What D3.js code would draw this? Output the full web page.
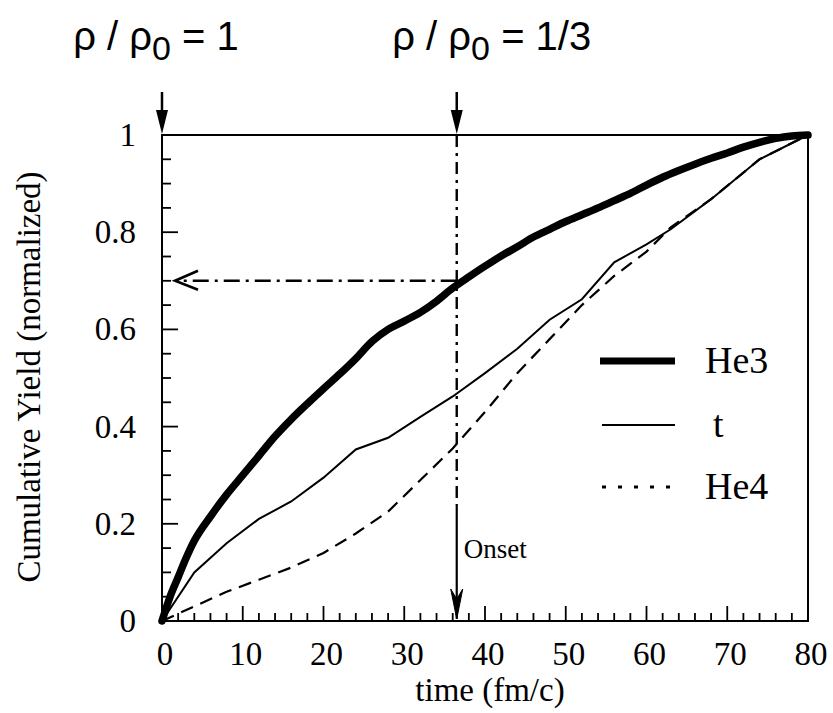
<!DOCTYPE html>
<html>
<head>
<meta charset="utf-8">
<script src="https://cdn.jsdelivr.net/npm/d3@7"></script>
<style>
  html, body { margin: 0; padding: 0; background: #fff; }
  svg { display: block; }
</style>
</head>
<body>
<svg id="chart" width="833" height="713"></svg>
<script>
// ---- data ----
const he3Time  = [0, 1, 2, 3, 4, 6, 8, 10, 12, 14, 16, 18, 20, 22, 24, 26, 28, 30, 32, 34, 36, 38, 40, 42, 44, 46, 48, 50, 52, 54, 56, 58, 60, 62, 64, 66, 68, 70, 72, 74, 76, 78, 80];
const he3Yield = [0, 0.05, 0.09, 0.13, 0.165, 0.215, 0.26, 0.3, 0.34, 0.38, 0.415, 0.447, 0.478, 0.508, 0.54, 0.575, 0.6, 0.617, 0.635, 0.658, 0.685, 0.708, 0.73, 0.751, 0.77, 0.79, 0.806, 0.822, 0.836, 0.85, 0.865, 0.88, 0.897, 0.913, 0.927, 0.94, 0.952, 0.963, 0.975, 0.985, 0.993, 0.998, 1.0];

const tTime  = [0, 4, 8, 12, 16, 20, 24, 28, 32, 36, 40, 44, 48, 52, 56, 60, 63, 68, 74, 80];
const tYield = [0, 0.10, 0.16, 0.21, 0.246, 0.295, 0.353, 0.377, 0.42, 0.462, 0.51, 0.56, 0.62, 0.662, 0.738, 0.775, 0.806, 0.868, 0.95, 1.0];

const he4Time  = [0, 4, 8, 12, 16, 20, 24, 28, 32, 36, 40, 44, 48, 52, 56, 60, 63, 68, 74, 80];
const he4Yield = [0, 0.03, 0.06, 0.085, 0.11, 0.14, 0.18, 0.225, 0.29, 0.355, 0.43, 0.51, 0.58, 0.65, 0.71, 0.76, 0.81, 0.868, 0.95, 1.0];

const xTickLabels = [0, 10, 20, 30, 40, 50, 60, 70, 80];
const yTickLabels = [0, 0.2, 0.4, 0.6, 0.8, 1];
const seriesNames = ["He3", "t", "He4"];
const onsetTime = 36.5;
const onsetYield = 0.70;
const xTitle = "time (fm/c)";
const yTitle = "Cumulative Yield (normalized)";

// ---- layout ----
const svg = d3.select("#chart");
const x = d3.scaleLinear().domain([0, 80]).range([162, 808]);
const y = d3.scaleLinear().domain([0, 1]).range([621, 135]);
const serif = "'Liberation Serif', 'Times New Roman', serif";
const narrow = "'Liberation Sans Narrow', 'Arial Narrow', 'Liberation Sans', sans-serif";

const pts = (ts, vs) => ts.map((t, i) => [t, vs[i]]);

// frame
const g = svg.append("g");
g.append("rect")
  .attr("x", x(0)).attr("y", y(1))
  .attr("width", x(80) - x(0)).attr("height", y(0) - y(1))
  .attr("fill", "none").attr("stroke", "#000").attr("stroke-width", 2);

// x ticks (inward)
const xMinor = d3.range(0, 81, 2);
g.selectAll(".xt").data(xMinor).enter().append("line")
  .attr("x1", d => x(d)).attr("x2", d => x(d))
  .attr("y1", y(0)).attr("y2", d => y(0) - (d % 10 === 0 ? 15 : 8))
  .attr("stroke", "#000").attr("stroke-width", 1.8);

// y ticks (inward)
const yMinor = d3.range(0, 21).map(i => i * 0.05);
g.selectAll(".yt").data(yMinor).enter().append("line")
  .attr("x1", x(0)).attr("x2", (d, i) => x(0) + (i % 4 === 0 ? 16 : 9))
  .attr("y1", d => y(d)).attr("y2", d => y(d))
  .attr("stroke", "#000").attr("stroke-width", 1.8);

// tick labels
g.selectAll(".xl").data(xTickLabels).enter().append("text")
  .attr("x", d => x(d) + 3).attr("y", 665)
  .attr("text-anchor", "middle")
  .attr("font-family", serif).attr("font-size", 33)
  .text(d => d);
g.selectAll(".yl").data(yTickLabels).enter().append("text")
  .attr("x", 136).attr("y", d => y(d) + 11)
  .attr("text-anchor", "end")
  .attr("font-family", serif).attr("font-size", 33)
  .text(d => d);

// axis titles
g.append("text").attr("x", 490).attr("y", 701)
  .attr("text-anchor", "middle").attr("font-family", serif).attr("font-size", 33)
  .text(xTitle);
g.append("text")
  .attr("transform", "translate(40,377) rotate(-90)")
  .attr("text-anchor", "middle").attr("font-family", serif).attr("font-size", 33)
  .text(yTitle);

// curves
const line = d3.line().x(d => x(d[0])).y(d => y(d[1]));
g.append("path").datum(pts(he4Time, he4Yield))
  .attr("d", line.curve(d3.curveLinear))
  .attr("fill", "none").attr("stroke", "#000").attr("stroke-width", 2.2)
  .attr("stroke-dasharray", "13,8");
g.append("path").datum(pts(tTime, tYield))
  .attr("d", line.curve(d3.curveLinear))
  .attr("fill", "none").attr("stroke", "#000").attr("stroke-width", 2);
g.append("path").datum(pts(he3Time, he3Yield))
  .attr("d", line.curve(d3.curveMonotoneX))
  .attr("fill", "none").attr("stroke", "#000").attr("stroke-width", 7.5)
  .attr("stroke-linejoin", "round").attr("stroke-linecap", "round");

// onset vertical dash-dot line
const ox = x(onsetTime);
const dashEnd = 505;
g.append("line").attr("x1", ox).attr("x2", ox).attr("y1", y(1)).attr("y2", dashEnd)
  .attr("stroke", "#000").attr("stroke-width", 2.4).attr("stroke-dasharray", "12,6,3,6");
g.append("line").attr("x1", ox).attr("x2", ox).attr("y1", dashEnd).attr("y2", y(0) - 2)
  .attr("stroke", "#000").attr("stroke-width", 2.2);
// bottom arrowhead
g.append("path")
  .attr("d", `M${ox - 6},${y(0) - 32} L${ox},${y(0) - 2} L${ox + 6},${y(0) - 32} L${ox},${y(0) - 22} Z`)
  .attr("fill", "#000").attr("stroke", "#000").attr("stroke-width", 1);

// horizontal dash-dot arrow to the y axis
const hy = y(onsetYield);
g.append("line").attr("x1", ox).attr("x2", x(0) + 14).attr("y1", hy).attr("y2", hy)
  .attr("stroke", "#000").attr("stroke-width", 2.4).attr("stroke-dasharray", "16,6,3,6");
g.append("path")
  .attr("d", `M${x(0) + 36},${hy - 10} L${x(0) + 13},${hy} L${x(0) + 36},${hy + 9}`)
  .attr("fill", "none").attr("stroke", "#000").attr("stroke-width", 2.6);

// "Onset" label
g.append("text").attr("x", ox + 7).attr("y", 558)
  .attr("font-family", serif).attr("font-size", 27).text("Onset");

// top annotations with arrows
const topMarks = [
  { t: 0, label: "1", dx: -6 },
  { t: onsetTime, label: "1/3", dx: 35 }
];
topMarks.forEach(m => {
  const ax = x(m.t);
  g.append("line").attr("x1", ax).attr("x2", ax).attr("y1", 92).attr("y2", 118)
    .attr("stroke", "#000").attr("stroke-width", 2.5);
  g.append("path")
    .attr("d", `M${ax - 6},${110} L${ax},${134} L${ax + 6},${110} Z`)
    .attr("fill", "#000");
  const tx = g.append("text").attr("x", ax + m.dx).attr("y", 50)
    .attr("text-anchor", "middle")
    .attr("font-family", narrow).attr("font-size", 40);
  tx.append("tspan").text("ρ / ρ");
  tx.append("tspan").attr("dy", 10).attr("font-size", 34).text("0");
  tx.append("tspan").attr("dy", -10).text(" = " + m.label);
});

// legend
const legX1 = 600, legX2 = 675, legText = 705;
const legY = [361, 425, 487];
g.append("line").attr("x1", legX1).attr("x2", legX2).attr("y1", legY[0]).attr("y2", legY[0])
  .attr("stroke", "#000").attr("stroke-width", 7);
g.append("line").attr("x1", legX1 + 2).attr("x2", legX2).attr("y1", legY[1]).attr("y2", legY[1])
  .attr("stroke", "#000").attr("stroke-width", 2.2);
g.append("line").attr("x1", legX1 + 2).attr("x2", legX2).attr("y1", legY[2]).attr("y2", legY[2])
  .attr("stroke", "#000").attr("stroke-width", 3).attr("stroke-dasharray", "4,12");
g.selectAll(".lt").data(seriesNames).enter().append("text")
  .attr("x", (d, i) => i === 1 ? legText + 8 : legText)
  .attr("y", (d, i) => legY[i] + 12)
  .attr("font-family", serif).attr("font-size", 38)
  .text(d => d);
</script>
</body>
</html>
